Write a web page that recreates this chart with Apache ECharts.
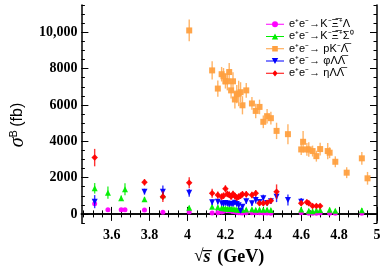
<!DOCTYPE html>
<html><head><meta charset="utf-8">
<script src="https://cdn.jsdelivr.net/npm/echarts@6/dist/echarts.min.js"></script>
<style>html,body{margin:0;padding:0;background:#fff}#c{width:389px;height:273px}</style>
</head><body><div id="c"></div>
<script>
// ---- data ----
const E_kxl = [3.51,3.58,3.65,3.67,3.773,3.87,4.009,4.13,4.16,4.18,4.19,4.20,4.21,4.22,4.23,4.24,4.25,4.26,4.27,4.28,4.29,4.31,4.34,4.36,4.38,4.40,4.42,4.44,4.60,4.64,4.66,4.68,4.70,4.75,4.78,4.92];
const V_kxl = [560,230,230,230,220,90,110,50,70,100,150,210,200,180,160,130,120,90,70,60,50,60,60,60,60,50,50,40,60,40,40,40,50,40,30,40];
const D_kxl = [80,60,60,60,50,50,40,30,30,30,40,50,40,40,40,40,30,30,30,30,30,30,30,30,30,30,30,30,30,20,20,20,20,20,20,20];

const E_kxs = [3.51,3.58,3.65,3.67,3.773,3.87,4.009,4.13,4.16,4.18,4.19,4.20,4.21,4.22,4.23,4.24,4.25,4.26,4.27,4.28,4.29,4.31,4.34,4.36,4.38,4.40,4.42,4.44,4.60,4.64,4.66,4.68,4.70,4.75,4.78,4.92];
const V_kxs = [1410,1170,860,1355,805,1030,345,400,370,330,310,300,290,280,300,270,260,250,240,220,230,240,260,230,250,230,240,220,250,180,150,200,210,230,180,200];
const D_kxs = [290,340,150,330,120,250,100,120,100,90,80,80,80,80,80,80,80,80,80,80,80,80,80,80,80,80,80,80,120,100,100,100,100,120,100,120];

const E_pkl = [4.009,4.13,4.16,4.18,4.19,4.20,4.21,4.22,4.23,4.24,4.25,4.26,4.27,4.28,4.29,4.31,4.34,4.36,4.38,4.40,4.42,4.44,4.47,4.53,4.60,4.61,4.63,4.64,4.66,4.68,4.70,4.74,4.75,4.78,4.84,4.92,4.95];
const V_pkl = [10100,7900,6900,7690,7580,7300,7300,7810,6800,7300,6300,6590,6630,6700,5980,6800,6080,5670,5890,5070,5380,5270,4570,4390,3550,3970,3550,3550,3460,3180,3570,3460,3370,2870,2270,3060,1960];
const D_pkl = [600,500,450,400,450,400,500,500,450,500,500,500,700,550,500,400,350,400,400,350,400,350,450,550,300,600,350,400,300,300,350,450,300,300,300,350,350];

const E_phi = [3.51,3.773,3.87,4.009,4.13,4.16,4.18,4.19,4.20,4.21,4.22,4.23,4.24,4.25,4.26,4.27,4.28,4.29,4.31,4.34,4.36,4.38,4.40,4.42,4.44,4.47,4.53,4.60];
const V_phi = [675,1225,1225,1170,640,675,590,560,600,570,530,560,540,620,540,480,180,390,700,590,770,650,860,600,700,950,770,675];
const D_phi = [360,160,340,220,150,150,130,130,130,130,130,130,130,130,130,130,130,130,150,150,200,150,200,150,150,300,300,200];

const E_eta = [3.51,3.773,3.87,4.009,4.13,4.16,4.18,4.19,4.20,4.21,4.22,4.23,4.24,4.25,4.26,4.27,4.28,4.29,4.31,4.34,4.36,4.38,4.40,4.42,4.44,4.47,4.60,4.63,4.64,4.66,4.68,4.70];
const V_eta = [3100,1740,950,1720,1135,1040,950,1000,1380,1100,1050,960,1100,980,900,950,1000,1080,1080,1040,1135,590,590,620,730,1225,590,640,590,440,440,440];
const D_eta = [480,180,300,300,250,200,180,180,200,180,180,180,180,180,180,180,180,180,180,180,180,150,150,150,150,400,150,150,150,120,120,120];

const names = ['e\u207Ae\u207B\u2192K\u207B\u039E\u0305\u207A\u039B',
               'e\u207Ae\u207B\u2192K\u207B\u039E\u0305\u207A\u03A3\u2070',
               'e\u207Ae\u207B\u2192 pK\u207B\u039B\u0305',
               'e\u207Ae\u207B\u2192 \u03C6\u039B\u039B\u0305',
               'e\u207Ae\u207B\u2192 \u03B7\u039B\u039B\u0305'];

const xTicks = [3.6,3.8,4.0,4.2,4.4,4.6,4.8,5.0];
const xTickLabels = ['3.6','3.8','4','4.2','4.4','4.6','4.8','5'];
const yTicks = [0,2000,4000,6000,8000,10000];
const yTickLabels = ['0','2000','4000','6000','8000','10,000'];
const X_MIN = 3.44, X_MAX = 5.0, Y_MIN = -500, Y_MAX = 11500;

// minor ticks: subdivide major steps
function minorOf(ticks, n, lo, hi){
  const step = (ticks[1]-ticks[0])/n, out=[];
  for (let v = ticks[0]; v >= lo-1e-9; v -= step) out.push(+v.toFixed(6));
  for (let v = ticks[0]+step; v <= hi+1e-9; v += step) out.push(+v.toFixed(6));
  return out.sort((a,b)=>a-b);
}
const xMinor = minorOf(xTicks, 4, X_MIN, X_MAX);
const yMinor = minorOf(yTicks, 4, Y_MIN, Y_MAX);

const colors = ['#ff00ff','#00ee00','#ffa040','#0000ff','#ff0000'];
const sets = [[E_kxl,V_kxl,D_kxl],[E_kxs,V_kxs,D_kxs],[E_pkl,V_pkl,D_pkl],[E_phi,V_phi,D_phi],[E_eta,V_eta,D_eta]];
const symbols = ['circle','triangle','rect','triangle','diamond'];
const rot = [0,0,0,180,0];
const sizes = [5,6,6,6,6.5];
const icons = [
 'path://M0,3.5H18V4.5H0Z M12,4A3,3,0,1,1,6,4A3,3,0,1,1,12,4Z',
 'path://M0,3.5H18V4.5H0Z M9,1L12.2,7L5.8,7Z',
 'path://M0,3.5H18V4.5H0Z M6.2,1.2H11.8V6.8H6.2Z',
 'path://M0,3.5H18V4.5H0Z M5.8,1L12.2,1L9,7Z',
 'path://M0,3.5H18V4.5H0Z M9,0.8L11.6,4L9,7.2L6.4,4Z'
];

const TICKFONT = {fontFamily:'Liberation Serif', fontWeight:'bold', fontSize:14, color:'#000'};
function xa(pos, major, labels){
  return {type:'value', position:pos, min:X_MIN, max:X_MAX,
    axisLine:{show:major, lineStyle:{color:'#000', width:1.5}},
    axisTick:{show:true, inside:true, length: major?7:3.5, customValues: major?xTicks:xMinor, lineStyle:{color:'#000', width:1}},
    axisLabel: labels ? Object.assign({show:true, margin:5, customValues:xTicks,
      formatter: v => { const i = xTicks.findIndex(t=>Math.abs(t-v)<1e-6); return i>=0?xTickLabels[i]:''; }}, TICKFONT) : {show:false},
    splitLine:{show:false}};
}
function ya(pos, major, labels){
  return {type:'value', position:pos, min:Y_MIN, max:Y_MAX,
    axisLine:{show:major, lineStyle:{color:'#000', width:1.5}},
    axisTick:{show:true, inside:true, length: major?7:3.5, customValues: major?yTicks:yMinor, lineStyle:{color:'#000', width:1}},
    axisLabel: labels ? Object.assign({show:true, margin:4, customValues:yTicks,
      formatter: v => { const i = yTicks.findIndex(t=>Math.abs(t-v)<1e-6); return i>=0?yTickLabels[i]:''; }}, TICKFONT) : {show:false},
    splitLine:{show:false}};
}

const xAxes = [xa('bottom',true,true), xa('bottom',false,false), xa('top',true,false), xa('top',false,false)];
xAxes[0].name = '{r|\u221A}{s|s\u0305}  {g|(GeV)}';
xAxes[0].nameLocation = 'middle';
xAxes[0].nameGap = 25;
xAxes[0].nameTextStyle = {rich:{
  r:{fontFamily:'Liberation Serif', fontSize:17, color:'#000'},
  s:{fontFamily:'Liberation Serif', fontStyle:'italic', fontWeight:'bold', fontSize:18, color:'#000'},
  g:{fontFamily:'Liberation Serif', fontWeight:'bold', fontSize:18, color:'#000'}}};
const yAxes = [ya('left',true,true), ya('left',false,false), ya('right',true,false), ya('right',false,false)];
yAxes[0].name = '{s|\u03C3}{b|B} {f|(fb)}';
yAxes[0].nameLocation = 'middle';
yAxes[0].nameRotate = 90;
yAxes[0].nameGap = 41;
yAxes[0].nameTextStyle = {padding:[0,22,0,0], rich:{
  s:{fontFamily:'Liberation Serif', fontStyle:'italic', fontSize:20, color:'#000'},
  b:{fontFamily:'Liberation Sans', fontSize:11, color:'#000', padding:[0,0,9,0]},
  f:{fontFamily:'Liberation Sans', fontSize:16, color:'#000'}}};

const series = [];
sets.forEach((s,k) => {
  const data = s[0].map((e,i)=>[e, s[1][i], s[2][i]]);
  series.push({type:'custom', name:names[k], xAxisIndex:0, yAxisIndex:0, z:2+k*2, silent:true,
    data: data, clip:true,
    renderItem:(params, api) => {
      const x = api.value(0), y = api.value(1), d = api.value(2);
      const p1 = api.coord([x, y-d]), p2 = api.coord([x, y+d]);
      return {type:'line', shape:{x1:p1[0], y1:p1[1], x2:p2[0], y2:p2[1]},
        style:{stroke:colors[k], lineWidth:1.4, opacity:0.8}};
    }});
  series.push({type:'scatter', name:names[k], xAxisIndex:0, yAxisIndex:0, z:3+k*2,
    symbol:symbols[k], symbolRotate:rot[k], symbolSize:sizes[k],
    itemStyle:{color:colors[k], opacity:0.95},
    data: data.map(p=>[p[0],p[1]])});
});

const chart = echarts.init(document.getElementById('c'), null, {renderer:'canvas'});
chart.setOption({
  animation:false,
  backgroundColor:'#fff',
  grid:{left:63, right:12, top:5, bottom:50, containLabel:false},
  xAxis:xAxes, yAxis:yAxes,
  legend:{left:266, top:18, padding:0, orient:'vertical', itemWidth:18, itemHeight:8, itemGap:0,
    icon:'none', selectedMode:false,
    textStyle:{fontFamily:'Liberation Sans', fontSize:11, color:'#000', lineHeight:12.3},
    data: names.map((n,k)=>({name:n, icon:icons[k], itemStyle:{color:colors[k]}}))},
  series: series
});
</script></body></html>
